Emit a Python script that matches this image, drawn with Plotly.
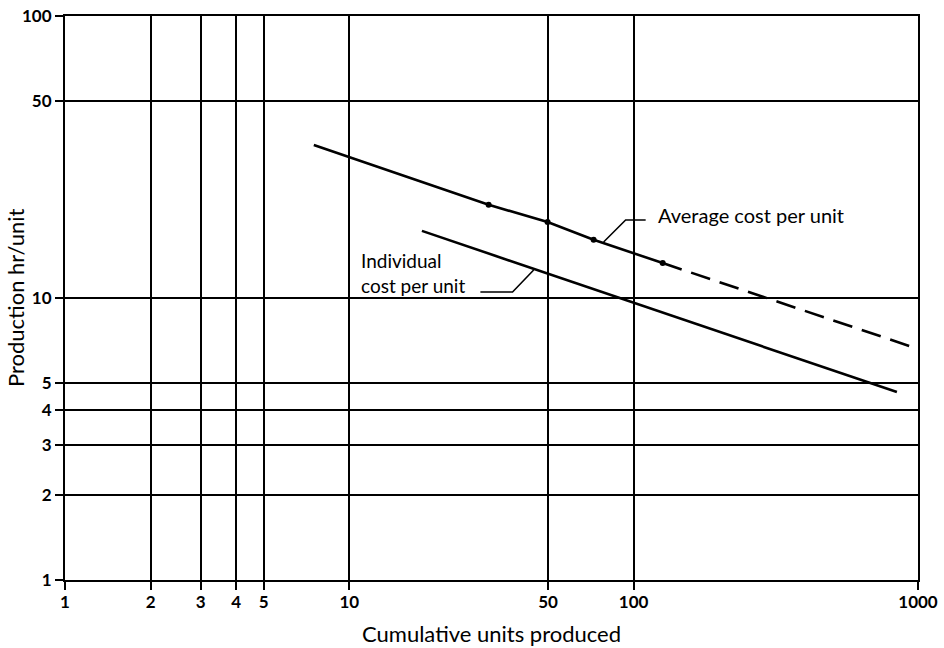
import plotly.graph_objects as go

# Data (log-log learning curves)
avg_solid_x = [7.5, 30.9, 49.8, 72.3, 126.5]
avg_solid_y = [34.9, 21.4, 18.6, 16.1, 13.3]
avg_marker_x = [30.9, 49.8, 72.3, 126.5]
avg_marker_y = [21.4, 18.6, 16.1, 13.3]
avg_dash_x = [126.5, 1000]
avg_dash_y = [13.3, 6.6]
ind_x = [18.0, 843]
ind_y = [17.3, 4.64]

# leader lines for the labels
avg_leader_x = [78.4, 93.7, 110.2]
avg_leader_y = [15.8, 18.9, 18.9]
ind_leader_x = [28.9, 37.5, 44.5]
ind_leader_y = [10.5, 10.5, 12.57]

x_ticks = [1, 2, 3, 4, 5, 10, 50, 100, 1000]
y_ticks = [1, 2, 3, 4, 5, 10, 50, 100]

FONT = "Lato"
LW = 2.6

fig = go.Figure()
fig.add_trace(go.Scatter(x=avg_solid_x, y=avg_solid_y, mode="lines",
                         line=dict(color="black", width=LW), showlegend=False))
fig.add_trace(go.Scatter(x=avg_dash_x, y=avg_dash_y, mode="lines",
                         line=dict(color="black", width=LW, dash="20px,10px"), showlegend=False))
fig.add_trace(go.Scatter(x=avg_marker_x, y=avg_marker_y, mode="markers",
                         marker=dict(color="black", size=6), showlegend=False))
fig.add_trace(go.Scatter(x=ind_x, y=ind_y, mode="lines",
                         line=dict(color="black", width=LW), showlegend=False))
fig.add_trace(go.Scatter(x=avg_leader_x, y=avg_leader_y, mode="lines",
                         line=dict(color="black", width=1.6), showlegend=False))
fig.add_trace(go.Scatter(x=ind_leader_x, y=ind_leader_y, mode="lines",
                         line=dict(color="black", width=1.6), showlegend=False))

fig.add_annotation(x=2.077, y=1.294, xref="x", yref="y", text="Average cost per unit",
                   showarrow=False, xanchor="left", yanchor="middle",
                   font=dict(family=FONT, size=20, color="black"))
fig.add_annotation(x=1.035, y=1.09, xref="x", yref="y", text="Individual<br>cost per unit",
                   showarrow=False, xanchor="left", yanchor="middle", align="left",
                   font=dict(family=FONT, size=19, color="black"))

# axis titles
fig.add_annotation(x=0.5, y=-0.094, xref="paper", yref="paper",
                   text="Cumulative units produced", showarrow=False,
                   xanchor="center", yanchor="middle",
                   font=dict(family=FONT, size=22, color="black"))
fig.add_annotation(x=-0.0586, y=0.5, xref="paper", yref="paper",
                   text="Production hr/unit", showarrow=False, textangle=-90,
                   xanchor="center", yanchor="middle",
                   font=dict(family=FONT, size=22, color="black"))

axis_common = dict(
    type="log",
    showgrid=True, gridcolor="black", gridwidth=2.2,
    showline=True, linecolor="black", linewidth=2.2, mirror=True,
    ticks="outside", ticklen=8, tickwidth=2, tickcolor="black",
    zeroline=False,
    tickfont=dict(family=FONT, size=17, color="black", weight="bold"),
)

fig.update_xaxes(**axis_common, range=[0, 3], tickvals=x_ticks,
                 ticktext=[str(v) for v in x_ticks], ticklabelstandoff=-3)
fig.update_yaxes(**axis_common, range=[0, 2], tickvals=y_ticks,
                 ticktext=[str(v) for v in y_ticks])

fig.update_layout(
    width=944, height=648,
    margin=dict(l=65, r=26, t=16, b=68, autoexpand=False),
    plot_bgcolor="white", paper_bgcolor="white",
    showlegend=False,
)

fig.write_html("out.html", config={"displayModeBar": False},
               post_script="document.body.style.margin='0';")
